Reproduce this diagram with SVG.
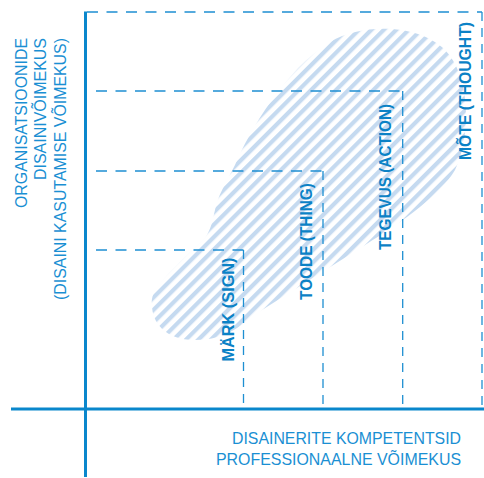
<svg xmlns="http://www.w3.org/2000/svg" width="484" height="478" viewBox="0 0 484 478">
  <style>
    .axis { stroke: #0a87cc; stroke-width: 3; fill: none; }
    .dash { stroke: #1e8fd2; stroke-width: 1.3; fill: none; stroke-dasharray: 11 8.5; }
    .vdash { stroke: #1e8fd2; stroke-width: 1.3; fill: none; stroke-dasharray: 9 7; }
    .lbl { font-family: "Liberation Sans", Arial, sans-serif; font-size: 16.2px; fill: #1a8fd3; }
    .cat { font-family: "Liberation Sans", Arial, sans-serif; font-size: 16.5px; font-weight: bold; fill: #0b82c6; text-anchor: middle; }
  </style>
  <defs>
    <pattern id="stripes" width="8.8" height="8.8" patternUnits="userSpaceOnUse" patternTransform="rotate(45)">
      <rect x="0" y="0" width="4.2" height="8.8" fill="#c5daf0"/>
    </pattern>
  </defs>
  <rect width="484" height="478" fill="#ffffff"/>

  <g id="blob">
    <path d="M152,305 C150,290 165,278 180,262 L205,238 C212,228 213,218 215,210 C218,195 225,185 235,165 C250,130 285,70 330,42 C365,22 420,25 445,50 C470,75 472,135 455,170 C440,195 405,220 365,245 L262,310 C242,324 228,340 195,340 C165,340 152,322 152,305 Z" fill="url(#stripes)"/>
  </g>

  <g id="connectors">
    <path class="dash" d="M87,12 H482"/>
    <path class="vdash" d="M482,12 V409"/>
    <path class="dash" d="M96,91 H402.7"/>
    <path class="vdash" d="M402.7,91 V409"/>
    <path class="dash" d="M96,171 H323"/>
    <path class="vdash" d="M323,171 V409"/>
    <path class="dash" d="M96,250 H243.5"/>
    <path class="vdash" d="M243.5,250 V409"/>
    <line class="axis" x1="85.5" y1="11.5" x2="85.5" y2="477"/>
    <line class="axis" x1="11" y1="409" x2="484" y2="409"/>
  </g>

  <g id="y-axis-label">
    <text class="lbl" text-anchor="end" transform="translate(26.5,38) rotate(-90)" textLength="170" lengthAdjust="spacingAndGlyphs">ORGANISATSIOONIDE</text>
    <text class="lbl" text-anchor="end" transform="translate(46,38) rotate(-90)" textLength="142" lengthAdjust="spacingAndGlyphs">DISAINIVÕIMEKUS</text>
    <text class="lbl" text-anchor="end" transform="translate(65.5,38) rotate(-90)" textLength="262" lengthAdjust="spacingAndGlyphs">(DISAINI KASUTAMISE VÕIMEKUS)</text>
  </g>

  <g id="x-axis-label">
    <text class="lbl" text-anchor="end" x="461" y="443.5" textLength="229" lengthAdjust="spacingAndGlyphs">DISAINERITE KOMPETENTSID</text>
    <text class="lbl" text-anchor="end" x="461" y="464.5" textLength="245" lengthAdjust="spacingAndGlyphs">PROFESSIONAALNE VÕIMEKUS</text>
  </g>

  <g id="node-mark">
    <text class="cat" transform="translate(234,309.5) rotate(-90)" textLength="104" lengthAdjust="spacingAndGlyphs">MÄRK (SIGN)</text>
  </g>
  <g id="node-toode">
    <text class="cat" transform="translate(312,241.5) rotate(-90)" textLength="117" lengthAdjust="spacingAndGlyphs">TOODE (THING)</text>
  </g>
  <g id="node-tegevus">
    <text class="cat" transform="translate(391,177) rotate(-90)" textLength="146" lengthAdjust="spacingAndGlyphs">TEGEVUS (ACTION)</text>
  </g>
  <g id="node-mote">
    <text class="cat" transform="translate(471,91) rotate(-90)" textLength="138" lengthAdjust="spacingAndGlyphs">MÕTE (THOUGHT)</text>
  </g>
</svg>
